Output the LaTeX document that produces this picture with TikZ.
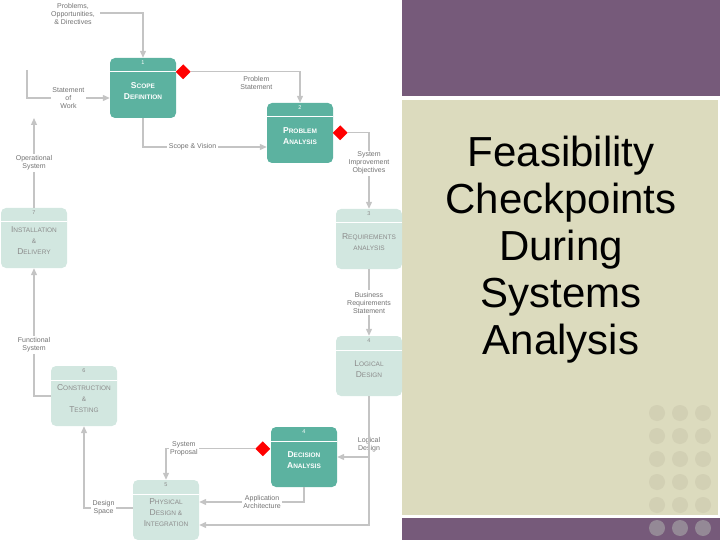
\documentclass[tikz,border=0pt]{standalone}
\usepackage{fontspec}
\setmainfont{Liberation Sans}
\usetikzlibrary{shapes.geometric,arrows.meta}
\definecolor{tealdark}{RGB}{92,178,160}
\definecolor{teallight}{RGB}{210,231,224}
\definecolor{flow}{RGB}{196,196,196}
\definecolor{slide}{RGB}{118,90,122}
\definecolor{panel}{RGB}{220,219,190}
\definecolor{dot}{RGB}{210,208,180}
\newcommand{\smc}[2]{{\fontsize{8.5}{9}\selectfont #1}{\fontsize{6.5}{9}\selectfont #2}}
\newcommand{\boxtitle}[1]{\raisebox{-6pt}[0pt][0pt]{\begin{tabular}{c}#1\end{tabular}}}
\tikzstyle{process}=[rectangle,
	rounded corners=5pt,
	minimum width=66pt,
	minimum height=60pt,
	inner sep=0pt,
	path picture={\draw[white,line width=1pt] ([yshift=-14pt]path picture bounding box.north west) -- ([yshift=-14pt]path picture bounding box.north east);}]
\tikzstyle{done}=[process,fill=tealdark,text=white,font=\bfseries]
\tikzstyle{todo}=[process,fill=teallight,text=black!45]
\tikzstyle{flowtext}=[fill=white,text=black!55,font=\fontsize{7}{8}\selectfont,align=center,inner sep=1.5pt]
\tikzstyle{flow}=[draw=flow,line width=1.2pt,-{Triangle[length=7pt,width=6pt]}]
\tikzstyle{check}=[diamond,fill=red,minimum size=15pt,inner sep=0pt]

\begin{document}
\begin{tikzpicture}[x=1pt,y=-1pt]
	\useasboundingbox (0,0) rectangle (720,540);
	% slide background
	\fill[slide] (402,0) rectangle (720,96);
	\fill[panel] (402,100) rectangle (718,515);
	\fill[slide] (402,518) rectangle (720,540);
	\foreach \y in {413,436,459,482,505}
		\foreach \x in {657,680,703}
			\fill[dot] (\x,\y) circle (8pt);
	\foreach \x in {657,680,703}
		\fill[black!35!slide!60!white] (\x,528) circle (8pt);
	\node (title) at (561,250) [align=center,font=\fontsize{42}{47}\selectfont]
		{Feasibility\\Checkpoints\\During\\Systems\\Analysis};

	% process boxes
	\node (scope) at (143,88) [done,label={[white,yshift=-10pt,font=\fontsize{5.5}{6}\selectfont]north:1}]
		{\boxtitle{\smc{S}{COPE}\\[-1pt]\smc{D}{EFINITION}}};
	\node (problem) at (300,133) [done,label={[white,yshift=-10pt,font=\fontsize{5.5}{6}\selectfont]north:2}]
		{\boxtitle{\smc{P}{ROBLEM}\\[-1pt]\smc{A}{NALYSIS}}};
	\node (require) at (369,239) [todo,label={[black!45,yshift=-10pt,font=\fontsize{5.5}{6}\selectfont]north:3}]
		{\boxtitle{\smc{R}{EQUIREMENTS}\\[-1pt]\smc{}{ANALYSIS}}};
	\node (logical) at (369,366) [todo,label={[black!45,yshift=-10pt,font=\fontsize{5.5}{6}\selectfont]north:4}]
		{\boxtitle{\smc{L}{OGICAL}\\[-1pt]\smc{D}{ESIGN}}};
	\node (decision) at (304,457) [done,label={[white,yshift=-10pt,font=\fontsize{5.5}{6}\selectfont]north:4}]
		{\boxtitle{\smc{D}{ECISION}\\[-1pt]\smc{A}{NALYSIS}}};
	\node (physical) at (166,510) [todo,label={[black!45,yshift=-10pt,font=\fontsize{5.5}{6}\selectfont]north:5}]
		{\boxtitle{\smc{P}{HYSICAL}\\[-1pt]\smc{D}{ESIGN \&}\\[-1pt]\smc{I}{NTEGRATION}}};
	\node (construct) at (84,396) [todo,label={[black!45,yshift=-10pt,font=\fontsize{5.5}{6}\selectfont]north:6}]
		{\boxtitle{\smc{C}{ONSTRUCTION}\\[-1pt]\smc{}{\&}\\[-1pt]\smc{T}{ESTING}}};
	\node (install) at (34,238) [todo,label={[black!45,yshift=-10pt,font=\fontsize{5.5}{6}\selectfont]north:7}]
		{\boxtitle{\smc{I}{NSTALLATION}\\[-1pt]\smc{}{\&}\\[-1pt]\smc{D}{ELIVERY}}};

	% checkpoints
	\node (chk1) [check] at ([xshift=7pt,yshift=-14pt]scope.north east) {};
	\node (chk2) [check] at ([xshift=7pt,yshift=-30pt]problem.north east) {};
	\node (chk4) [check] at ([xshift=-8pt,yshift=-22pt]decision.north west) {};

	% flows
	\coordinate (ext) at (100,13);
	\coordinate (old) at (27,70);
	\draw[flow] (ext) -| (scope.north);
	\node (ext label) at (73,14) [flowtext] {Problems,\\Opportunities,\\\& Directives};
	\draw[flow] (old) |- (scope.west |- 0,98) node[pos=0.75,flowtext] {Statement\\of\\Work};
	\draw[flow] (install.north) -- (34,118) node[midway,flowtext] {Operational\\System};
	\draw[flow] (chk1.east) -| (problem.north) node[pos=0.3,below=3pt,flowtext] {Problem\\Statement};
	\draw[flow] (scope.south) |- (problem.west |- 0,147) node[pos=0.7,flowtext] {Scope \& Vision};
	\draw[flow] (chk2.east) -| (require.north) node[pos=0.7,flowtext] {System\\Improvement\\Objectives};
	\draw[flow] (require.south) -- (logical.north) node[midway,flowtext] {Business\\Requirements\\Statement};
	\draw[flow] (logical.south) |- (decision.east |- 0,457) node[pos=0.4,flowtext] {Logical\\Design};
	\draw[flow] (logical.south) |- (physical.east |- 0,525);
	\draw[flow] (chk4.west) -| (physical.north) node[pos=0.4,flowtext] {System\\Proposal};
	\draw[flow] (decision.south) |- (physical.east |- 0,502) node[pos=0.7,flowtext] {Application\\Architecture};
	\draw[flow] (physical.west |- 0,508) -| (construct.south) node[pos=0.3,flowtext] {Design\\Space};
	\draw[flow] (construct.west) -| (install.south) node[pos=0.7,flowtext] {Functional\\System};
\end{tikzpicture}
\end{document}
